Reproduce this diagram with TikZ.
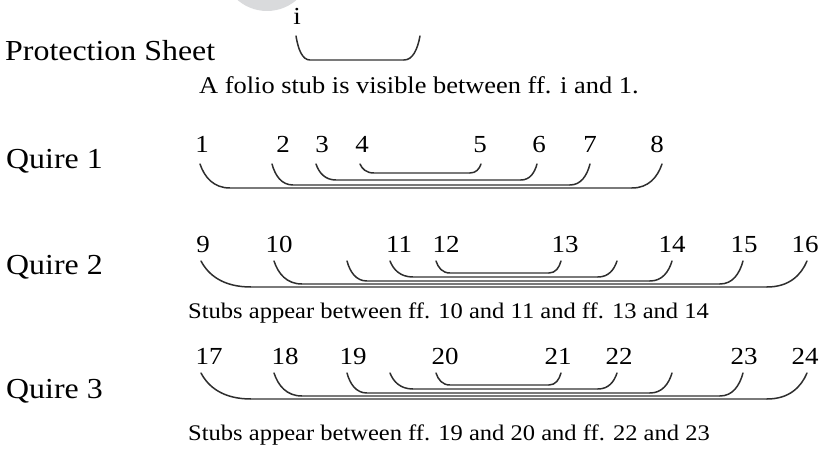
\documentclass[tikz,border=0pt]{standalone}
\usepackage{fontspec}
\usepackage{graphicx}
\setmainfont{Liberation Serif}
\definecolor{inkdark}{HTML}{2E2E2E}
\definecolor{inkline}{HTML}{7A7A7A}
\definecolor{sealgray}{HTML}{D9DADC}
% slightly widened type
\newcommand\wide[1]{\scalebox{1.1}[1]{#1}}
% one folded sheet: left end, right end, top, bottom, left curve width, right curve width
\newcommand\leafpair[6]{%
  \draw[foldcurve] (#1,#3) .. controls ({#1+0.15*#5},{#3+0.55*(#4-#3)}) and ({#1+0.45*#5},#4) .. ({#1+#5},#4);
  \draw[foldline] ({#1+#5},#4) -- ({#2-#6},#4);
  \draw[foldcurve] ({#2-#6},#4) .. controls ({#2-0.45*#6},#4) and ({#2-0.15*#6},{#3+0.55*(#4-#3)}) .. (#2,#3);
}
\begin{document}
\begin{tikzpicture}[x=1pt,y=-1pt,
  foldcurve/.style={draw=inkdark,line width=1.5pt,line cap=round},
  foldline/.style={draw=inkline,line width=1.2pt},
  heading/.style={anchor=base west,inner sep=0pt,font=\fontsize{29}{31}\selectfont},
  note/.style={anchor=base west,inner sep=0pt,font=\fontsize{24}{26}\selectfont},
  smallnote/.style={anchor=base west,inner sep=0pt,font=\fontsize{22.3}{24}\selectfont},
  folio/.style={anchor=base,inner sep=0pt,font=\fontsize{24.5}{26}\selectfont}]
\useasboundingbox (0,0) rectangle (820,452);
\fill[sealgray] (267,-34) circle (45);

% protection sheet
\node[heading] (prot) at (5,61) {\wide{Protection Sheet}};
\node[folio] (fi) at (297,25) {\wide{i}};
\leafpair{296}{420}{36}{60}{14}{16}
\node[note] (protnote) at (199,93) {\wide{A folio stub is visible between ff. i and 1.}};

% quire 1
\node[heading] (q1) at (6,168) {\wide{Quire 1}};
\foreach \n/\x in {1/202,2/283,3/322,4/362,5/480,6/539,7/590,8/657}
  \node[folio] (f\n) at (\x,153) {\wide{\n}};
\leafpair{200}{662}{164}{188}{30}{30}
\leafpair{272}{590}{164}{185}{21}{20}
\leafpair{316}{537}{164}{180}{20}{16}
\leafpair{360}{481}{164}{173}{14}{11}

% quire 2
\node[heading] (q2) at (6,274) {\wide{Quire 2}};
\foreach \n/\x in {9/203,10/279,11/399,12/446,13/565,14/672,15/744,16/805}
  \node[folio] (f\n) at (\x,252) {\wide{\n}};
\leafpair{201}{807}{261}{287}{50}{40}
\leafpair{274}{743}{261}{284}{28}{23}
\leafpair{347}{672}{261}{281}{20}{22}
\leafpair{390}{617}{261}{277}{23}{19}
\leafpair{436}{561}{261}{273}{14}{12}
\node[smallnote] (q2note) at (188,318) {\wide{Stubs appear between ff. 10 and 11 and ff. 13 and 14}};

% quire 3
\node[heading] (q3) at (6,398) {\wide{Quire 3}};
\foreach \n/\x in {17/209,18/285,19/353,20/445,21/558,22/619,23/744,24/805}
  \node[folio] (f\n) at (\x,364) {\wide{\n}};
\leafpair{201}{807}{373}{399}{50}{40}
\leafpair{274}{743}{373}{396}{28}{23}
\leafpair{347}{672}{373}{393}{20}{22}
\leafpair{390}{617}{373}{389}{23}{19}
\leafpair{436}{561}{373}{385}{14}{12}
\node[smallnote] (q3note) at (188,440) {\wide{Stubs appear between ff. 19 and 20 and ff. 22 and 23}};
\end{tikzpicture}
\end{document}
